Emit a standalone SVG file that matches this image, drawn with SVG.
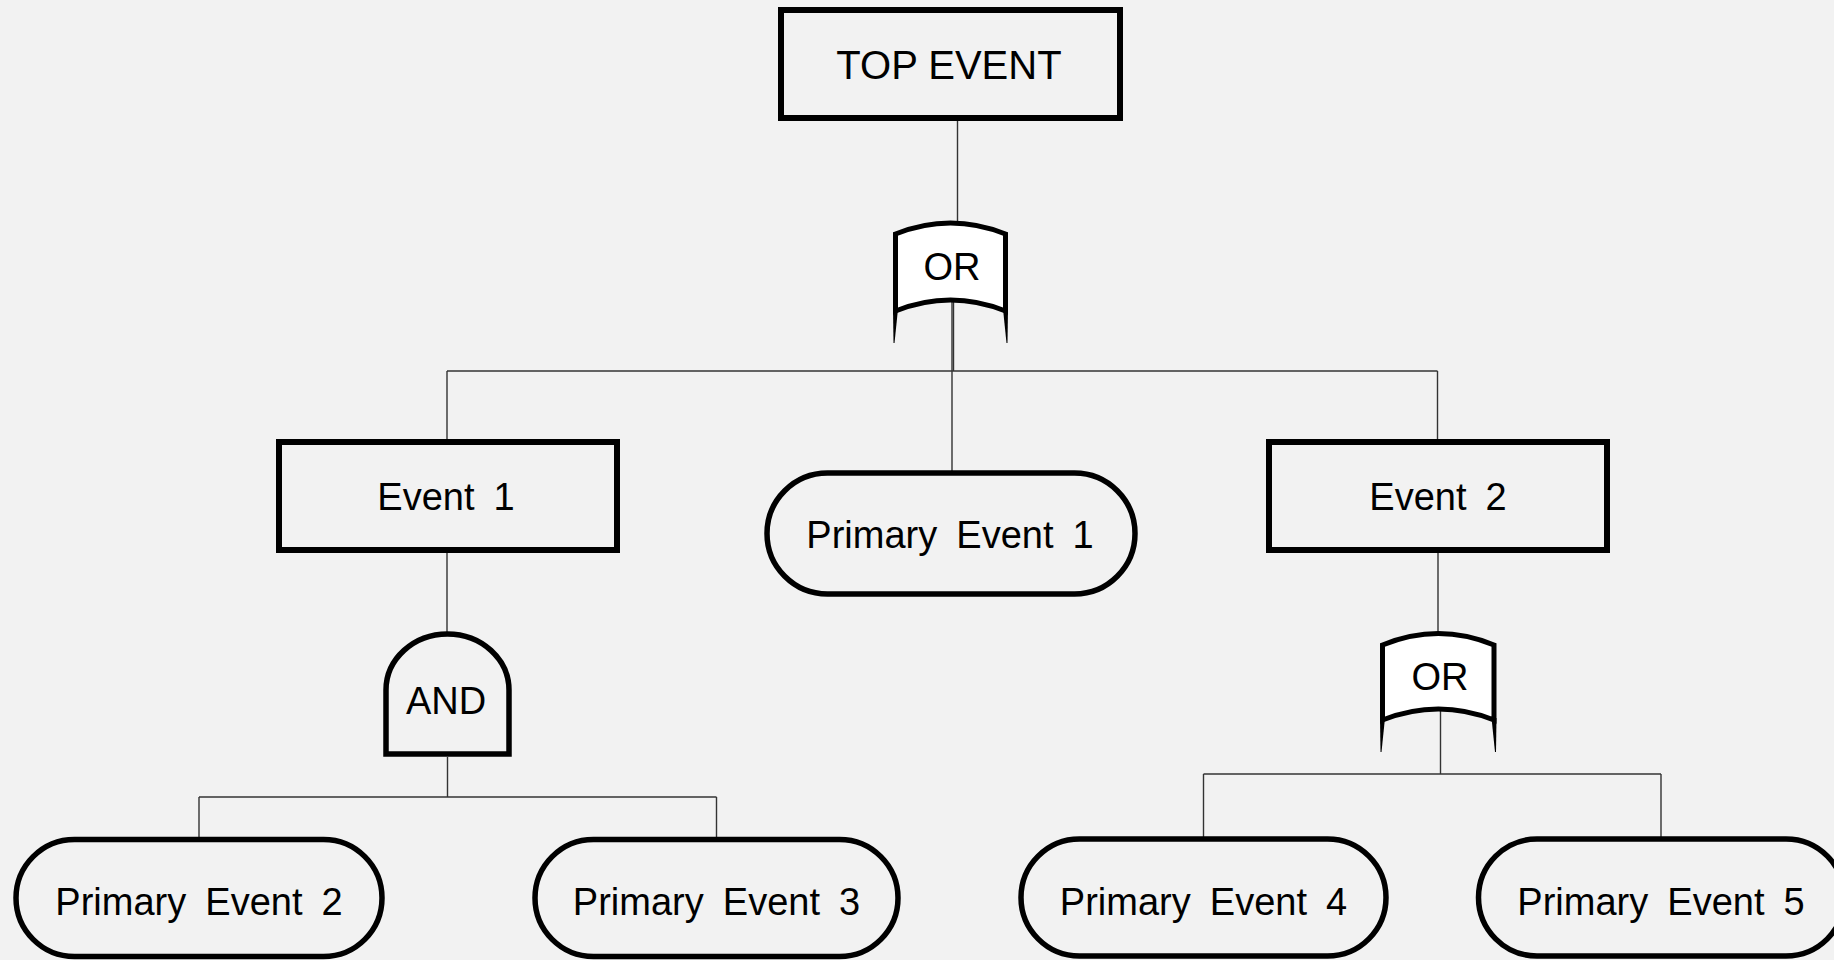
<svg xmlns="http://www.w3.org/2000/svg" width="1834" height="960" viewBox="0 0 1834 960">
<style>
.box{fill:#f2f2f2;stroke:#000;stroke-width:6}
.pe{fill:#f2f2f2;stroke:#000;stroke-width:5.5}
.gate{fill:#fff;stroke:#000;stroke-width:5}
.and{fill:#f2f2f2;stroke:#000;stroke-width:5.5}
.leg{fill:#000}
.t{font-family:"Liberation Sans",Arial,sans-serif;font-size:38px;fill:#000;text-anchor:middle;word-spacing:8.5px}
.c{stroke:#333;stroke-width:1.4;fill:none}
</style>
<rect width="1834" height="960" fill="#f2f2f2"/>
<g id="connectors">
<line class="c" x1="957.5" y1="121" x2="957.5" y2="222"/>
<line class="c" x1="952" y1="298" x2="952" y2="471"/>
<line class="c" x1="953.5" y1="298" x2="953.5" y2="371"/>
<line class="c" x1="447" y1="371" x2="1437.5" y2="371"/>
<line class="c" x1="447" y1="371" x2="447" y2="440"/>
<line class="c" x1="1437.5" y1="371" x2="1437.5" y2="441"/>
<line class="c" x1="447" y1="553" x2="447" y2="633"/>
<line class="c" x1="447.5" y1="757" x2="447.5" y2="797"/>
<line class="c" x1="199" y1="797" x2="716.5" y2="797"/>
<line class="c" x1="199" y1="797" x2="199" y2="838"/>
<line class="c" x1="716.5" y1="797" x2="716.5" y2="838"/>
<line class="c" x1="1438" y1="553" x2="1438" y2="633"/>
<line class="c" x1="1440.5" y1="708" x2="1440.5" y2="774"/>
<line class="c" x1="1203.5" y1="774" x2="1661" y2="774"/>
<line class="c" x1="1203.5" y1="774" x2="1203.5" y2="838"/>
<line class="c" x1="1661" y1="774" x2="1661" y2="838"/>
</g>
<g id="top-event">
<rect class="box" x="781" y="10" width="339" height="108"/>
<text class="t" x="949" y="79" style="font-size:40px;word-spacing:0">TOP EVENT</text>
</g>
<g id="or-gate-1">
<path class="gate" d="M895.5,234 Q950.5,212 1005.5,234 L1005.5,311 Q950.5,289 895.5,311 Z"/>
<path class="leg" d="M893,309 L898,309 L894.5,343 L893.5,343 Z"/>
<path class="leg" d="M1003,309 L1008,309 L1007.5,343 L1006.5,343 Z"/>
<text class="t" x="952" y="280">OR</text>
</g>
<g id="event-1">
<rect class="box" x="279" y="442" width="338" height="108"/>
<text class="t" x="446" y="510">Event 1</text>
</g>
<g id="primary-event-1">
<rect class="pe" x="767" y="473" width="368" height="121" rx="60.5" ry="60.5"/>
<text class="t" x="950" y="548">Primary Event 1</text>
</g>
<g id="event-2">
<rect class="box" x="1269" y="442" width="338" height="108"/>
<text class="t" x="1438" y="510">Event 2</text>
</g>
<g id="and-gate">
<path class="and" d="M386,754 L386,690 A61.5,56 0 0 1 509,690 L509,754 Z"/>
<text class="t" x="446" y="714">AND</text>
</g>
<g id="or-gate-2">
<path class="gate" d="M1382.5,645 Q1438.5,622 1494,645 L1494,720 Q1438.5,698 1382.5,720 Z"/>
<path class="leg" d="M1380,718 L1385,718 L1381.5,752 L1380.5,752 Z"/>
<path class="leg" d="M1491.5,718 L1496.5,718 L1496,752 L1495,752 Z"/>
<text class="t" x="1440" y="690">OR</text>
</g>
<g id="primary-event-2">
<rect class="pe" x="16" y="839.5" width="366" height="117" rx="58.5" ry="58.5"/>
<text class="t" x="199" y="915">Primary Event 2</text>
</g>
<g id="primary-event-3">
<rect class="pe" x="535" y="839.5" width="363" height="117" rx="58.5" ry="58.5"/>
<text class="t" x="716.5" y="915">Primary Event 3</text>
</g>
<g id="primary-event-4">
<rect class="pe" x="1021" y="839" width="365" height="117" rx="58.5" ry="58.5"/>
<text class="t" x="1203.5" y="915">Primary Event 4</text>
</g>
<g id="primary-event-5">
<rect class="pe" x="1478.5" y="839" width="366" height="117" rx="58.5" ry="58.5"/>
<text class="t" x="1661" y="915">Primary Event 5</text>
</g>
</svg>
